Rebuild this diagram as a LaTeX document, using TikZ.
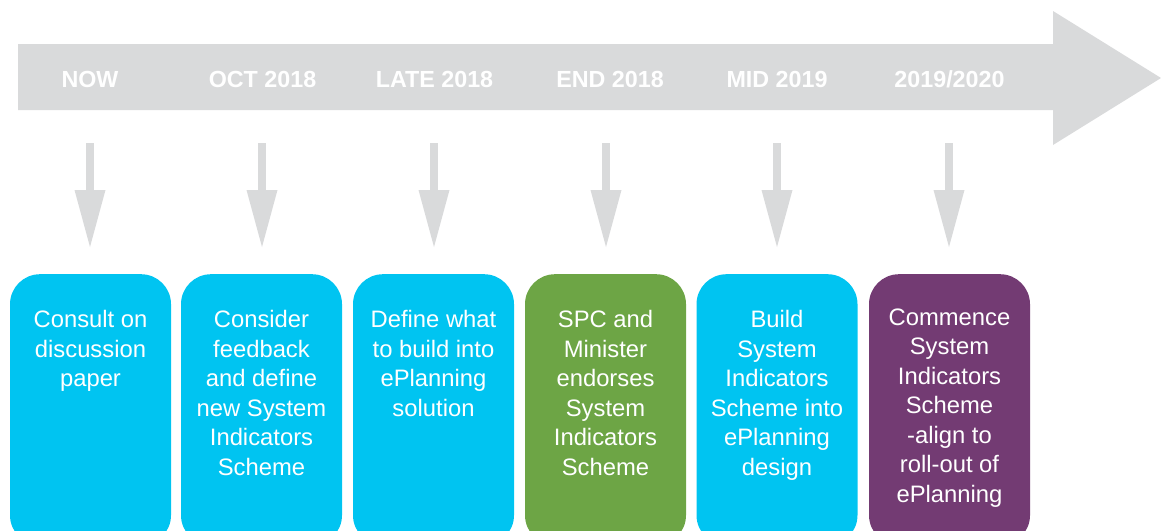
\documentclass[tikz,border=0pt]{standalone}
\usepackage{fontspec}
\setmainfont{Liberation Sans}
\usetikzlibrary{arrows.meta,calc}
\definecolor{tlgray}{HTML}{D9DADB}
\definecolor{tlcyan}{HTML}{00C4F1}
\definecolor{tlgreen}{HTML}{6DA545}
\definecolor{tlpurple}{HTML}{733B73}
\tikzset{
  datelabel/.style={text=white,font=\bfseries\fontsize{23.3}{28}\selectfont,inner sep=0pt,anchor=base},
  downarrow/.style={draw=tlgray,line width=8pt,-{Triangle[width=31pt,length=57pt,line width=0pt]}},
  stagebox/.style={rounded corners=30pt,minimum width=161pt,minimum height=271pt,inner sep=0pt,anchor=north,draw=none},
  stagetext/.style={text=white,font=\fontsize{23.8}{29.5}\selectfont,align=center,inner sep=0pt,anchor=north}
}
\begin{document}
\begin{tikzpicture}[x=1pt,y=-1pt]
\useasboundingbox (0,0) rectangle (1161,530);
\clip (0,0) rectangle (1161,530);
% main timeline arrow
\fill[tlgray] (18,44) -- (1053,44) -- (1053,11) -- (1161,78) -- (1053,145) -- (1053,110) -- (18,110) -- cycle;
% date labels
\node[datelabel] (l1) at (90,87.3) {NOW};
\node[datelabel] (l2) at (262.5,87.3) {OCT 2018};
\node[datelabel] (l3) at (434.5,87.3) {LATE 2018};
\node[datelabel] (l4) at (610,87.3) {END 2018};
\node[datelabel] (l5) at (777,87.3) {MID 2019};
\node[datelabel] (l6) at (949.5,87.3) {2019/2020};
% stage boxes
\node[stagebox,fill=tlcyan] (b1) at (90.5,274) {};
\node[stagebox,fill=tlcyan] (b2) at (261.5,274) {};
\node[stagebox,fill=tlcyan] (b3) at (433.5,274) {};
\node[stagebox,fill=tlgreen] (b4) at (605.5,274) {};
\node[stagebox,fill=tlcyan] (b5) at (777,274) {};
\node[stagebox,fill=tlpurple] (b6) at (949.5,274) {};
% arrow start/end coordinates
\foreach \i/\x in {1/90,2/262,3/434,4/606,5/777,6/949}{
  \coordinate (s\i) at (\x,143);
  \coordinate (e\i) at (\x,247);
  \draw[downarrow] (s\i) -- (e\i);
}
% stage texts
\node[stagetext] (t1) at ($(b1.north)+(0,36.5)$) {Consult on\\discussion\\paper};
\node[stagetext] (t2) at ($(b2.north)+(0,36.5)$) {Consider\\feedback\\and define\\new System\\Indicators\\Scheme};
\node[stagetext] (t3) at ($(b3.north)+(0,36.5)$) {Define what\\to build into\\ePlanning\\solution};
\node[stagetext] (t4) at ($(b4.north)+(0,36.5)$) {SPC and\\Minister\\endorses\\System\\Indicators\\Scheme};
\node[stagetext] (t5) at ($(b5.north)+(0,36.5)$) {Build\\System\\Indicators\\Scheme into\\ePlanning\\design};
\node[stagetext] (t6) at ($(b6.north)+(0,34.3)$) {Commence\\System\\Indicators\\Scheme\\-align to\\roll-out of\\ePlanning};
\end{tikzpicture}
\end{document}
